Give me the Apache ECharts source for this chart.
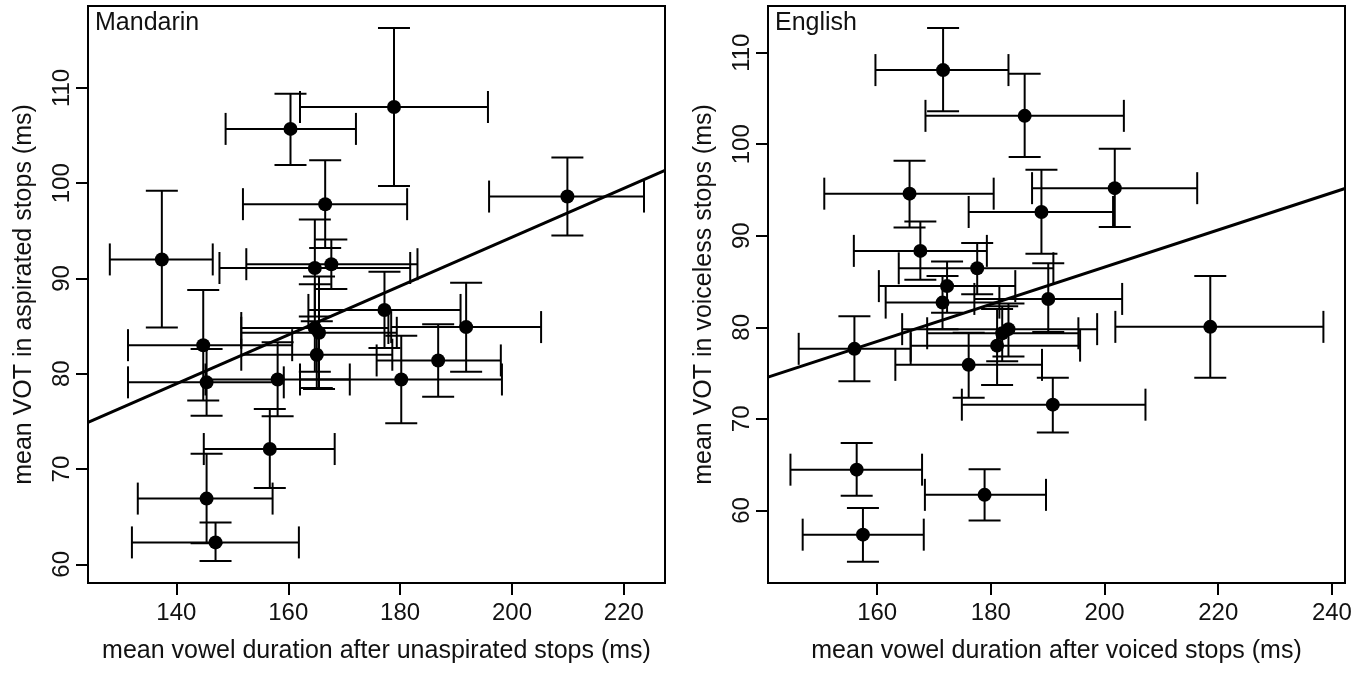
<!DOCTYPE html>
<html>
<head>
<meta charset="utf-8">
<script src="https://cdn.jsdelivr.net/npm/echarts@6/dist/echarts.min.js"></script>
<style>
  html, body { margin: 0; padding: 0; background: #fff; }
  #chart { width: 1368px; height: 673px; }
</style>
</head>
<body>
<div id="chart"></div>
<script>
// tick labels
const mandarinXTicks = [140, 160, 180, 200, 220]
const englishXTicks = [160, 180, 200, 220, 240]
const votTicks = [60, 70, 80, 90, 100, 110]

// Mandarin: mean vowel duration (x) vs mean VOT (y), with error bar ends
const mandarinX = [137.4, 160.4, 178.9, 209.9, 166.6, 164.75, 167.7, 177.2, 191.8, 186.8, 180.2, 164.75, 165.5, 165.1, 144.8, 145.4, 158.1, 156.7, 145.4, 147.0]
const mandarinY = [92.0, 105.7, 108.0, 98.6, 97.8, 91.1, 91.5, 86.7, 84.9, 81.4, 79.4, 84.8, 84.3, 82.0, 83.0, 79.1, 79.4, 72.1, 66.9, 62.3]
const mandarinXLo = [128.1, 148.8, 162.1, 195.9, 151.9, 147.7, 152.5, 163.6, 178.4, 175.8, 162.1, 151.6, 151.6, 151.6, 131.35, 131.35, 145.2, 144.9, 133.1, 132.05]
const mandarinXHi = [146.5, 172.1, 195.7, 223.6, 181.25, 181.8, 183.1, 190.8, 205.2, 198.0, 198.2, 177.9, 179.4, 178.6, 160.7, 159.2, 171.0, 168.3, 157.2, 161.9]
const mandarinYLo = [84.85, 101.9, 99.7, 94.5, 93.2, 86.0, 88.9, 82.7, 80.2, 77.6, 74.8, 80.2, 78.4, 78.5, 77.2, 75.6, 75.55, 68.0, 62.2, 60.35]
const mandarinYHi = [99.2, 109.4, 116.3, 102.7, 102.4, 96.2, 94.1, 90.7, 89.55, 85.2, 84.0, 89.4, 90.2, 85.5, 88.8, 82.6, 83.3, 76.3, 71.6, 64.4]
const mandarinFitX = [124.2, 227.35]
const mandarinFitY = [74.9, 101.35]

// English
const englishX = [171.6, 185.95, 165.7, 201.8, 188.9, 167.6, 177.6, 172.3, 171.5, 190.1, 183.1, 182.0, 181.1, 218.6, 156.0, 176.1, 190.9, 156.4, 178.9, 157.5]
const englishY = [108.1, 103.1, 94.6, 95.2, 92.6, 88.35, 86.45, 84.5, 82.7, 83.1, 79.8, 79.35, 78.0, 80.05, 77.65, 75.9, 71.55, 64.45, 61.7, 57.35]
const englishXLo = [159.7, 168.5, 150.7, 187.25, 176.1, 155.9, 163.8, 160.3, 161.5, 177.1, 164.4, 168.8, 165.9, 201.9, 146.2, 163.2, 174.9, 144.75, 168.4, 146.9]
const englishXHi = [183.1, 203.4, 180.5, 216.3, 201.5, 179.3, 191.0, 184.3, 181.5, 203.1, 198.7, 195.4, 195.7, 238.5, 165.9, 189.0, 207.2, 167.9, 189.7, 168.2]
const englishYLo = [103.6, 98.6, 90.9, 90.95, 88.05, 85.2, 83.6, 81.6, 79.8, 79.5, 76.8, 76.3, 73.7, 74.5, 74.1, 72.3, 68.5, 61.6, 58.9, 54.4]
const englishYHi = [112.7, 107.7, 98.2, 99.5, 97.2, 91.55, 89.2, 87.2, 85.6, 87.0, 82.6, 82.3, 82.0, 85.6, 81.2, 79.4, 74.5, 67.35, 64.5, 60.26]
const englishFitX = [140.8, 242.3]
const englishFitY = [74.56, 95.16]

const FONT = '"Liberation Sans", Arial, Helvetica, sans-serif'
const CAP = 16

// whiskers in both directions, R arrows(angle = 90) style
function errorBars(params, api) {
  const x = api.value(0)
  const y = api.value(1)
  const c = api.coord([x, y])
  const l = api.coord([api.value(2), y])
  const r = api.coord([api.value(3), y])
  const b = api.coord([x, api.value(4)])
  const t = api.coord([x, api.value(5)])
  const style = { stroke: '#000', lineWidth: 2, fill: null }
  const seg = (x1, y1, x2, y2) => ({ type: 'line', shape: { x1, y1, x2, y2 }, style })
  return {
    type: 'group',
    children: [
      seg(l[0], c[1], r[0], c[1]),
      seg(l[0], c[1] - CAP, l[0], c[1] + CAP),
      seg(r[0], c[1] - CAP, r[0], c[1] + CAP),
      seg(c[0], b[1], c[0], t[1]),
      seg(c[0] - CAP, t[1], c[0] + CAP, t[1]),
      seg(c[0] - CAP, b[1], c[0] + CAP, b[1]),
    ],
  }
}

function rows(xs, ys, xlo, xhi, ylo, yhi) {
  return xs.map((v, i) => [v, ys[i], xlo[i], xhi[i], ylo[i], yhi[i]])
}

function xAxisFor(idx, min, max, ticks, name) {
  return {
    type: 'value',
    gridIndex: idx,
    min: min,
    max: max,
    name: name,
    nameLocation: 'middle',
    nameGap: 56,
    nameTextStyle: { color: '#111', fontSize: 25, fontFamily: FONT },
    axisLine: { show: false },
    axisTick: { show: true, length: 12, customValues: ticks, lineStyle: { color: '#000', width: 2 } },
    axisLabel: { customValues: ticks, color: '#111', fontSize: 24, fontFamily: FONT, margin: 18 },
    splitLine: { show: false },
  }
}

function yAxisFor(idx, min, max, name) {
  return {
    type: 'value',
    gridIndex: idx,
    min: min,
    max: max,
    name: name,
    nameLocation: 'middle',
    nameGap: 51,
    nameTextStyle: { color: '#111', fontSize: 25, fontFamily: FONT },
    axisLine: { show: false },
    axisTick: { show: true, length: 12, customValues: votTicks, lineStyle: { color: '#000', width: 2 } },
    axisLabel: { customValues: votTicks, rotate: 90, color: '#111', fontSize: 24, fontFamily: FONT, margin: 14 },
    splitLine: { show: false },
  }
}

function panelSeries(idx, xs, ys, xlo, xhi, ylo, yhi, fitX, fitY) {
  return [
    {
      type: 'custom',
      xAxisIndex: idx,
      yAxisIndex: idx,
      renderItem: errorBars,
      data: rows(xs, ys, xlo, xhi, ylo, yhi),
      encode: { x: 0, y: 1 },
      clip: true,
      silent: true,
      z: 2,
    },
    {
      type: 'scatter',
      xAxisIndex: idx,
      yAxisIndex: idx,
      data: xs.map((v, i) => [v, ys[i]]),
      symbol: 'circle',
      symbolSize: 14,
      itemStyle: { color: '#000', opacity: 1 },
      z: 3,
    },
    {
      type: 'line',
      xAxisIndex: idx,
      yAxisIndex: idx,
      data: fitX.map((v, i) => [v, fitY[i]]),
      showSymbol: false,
      lineStyle: { color: '#000', width: 3 },
      z: 4,
    },
  ]
}

const option = {
  animation: false,
  backgroundColor: '#fff',
  title: [
    { text: 'Mandarin', left: 95, top: 11, padding: 0, textStyle: { fontSize: 25, fontWeight: 'normal', color: '#111', fontFamily: FONT } },
    { text: 'English', left: 775, top: 11, padding: 0, textStyle: { fontSize: 25, fontWeight: 'normal', color: '#111', fontFamily: FONT } },
  ],
  grid: [
    { left: 88, top: 6, width: 577, height: 577, show: true, borderColor: '#000', borderWidth: 2, backgroundColor: 'transparent' },
    { left: 768, top: 6, width: 577, height: 577, show: true, borderColor: '#000', borderWidth: 2, backgroundColor: 'transparent' },
  ],
  xAxis: [
    xAxisFor(0, 124.2, 227.35, mandarinXTicks, 'mean vowel duration after unaspirated stops (ms)'),
    xAxisFor(1, 140.8, 242.3, englishXTicks, 'mean vowel duration after voiced stops (ms)'),
  ],
  yAxis: [
    yAxisFor(0, 58.04, 118.6, 'mean VOT in aspirated stops (ms)'),
    yAxisFor(1, 52.07, 115.1, 'mean VOT in voiceless stops (ms)'),
  ],
  series: [
    ...panelSeries(0, mandarinX, mandarinY, mandarinXLo, mandarinXHi, mandarinYLo, mandarinYHi, mandarinFitX, mandarinFitY),
    ...panelSeries(1, englishX, englishY, englishXLo, englishXHi, englishYLo, englishYHi, englishFitX, englishFitY),
  ],
}

const myChart = echarts.init(document.getElementById('chart'))
myChart.setOption(option)
</script>
</body>
</html>
